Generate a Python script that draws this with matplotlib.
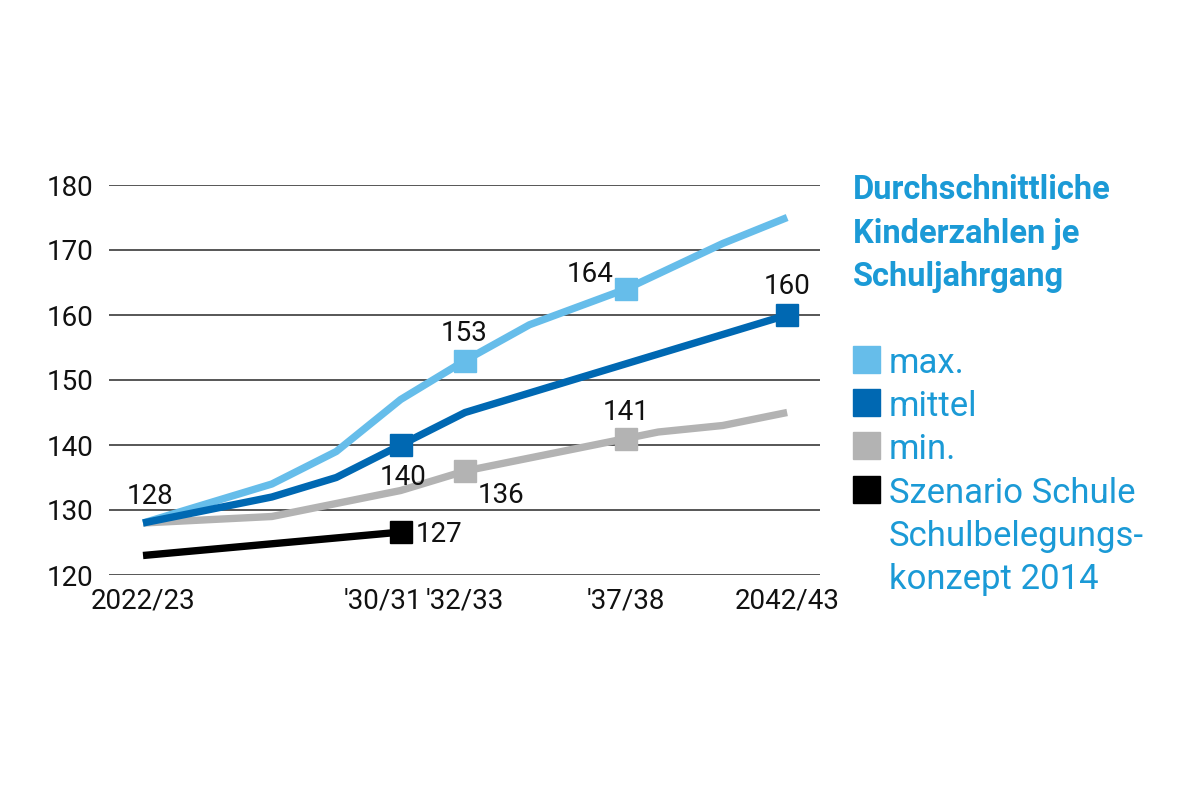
import matplotlib.pyplot as plt
from matplotlib.patches import Rectangle
from matplotlib.transforms import ScaledTranslation

plt.rcParams['font.family'] = ['Roboto', 'DejaVu Sans']

# x = Jahre ab 2022/23
tick_pos = [0, 8, 10, 15, 20]
tick_labels = ["2022/23", "'30/31", "'32/33", "'37/38", "2042/43"]

max_x = [0, 4, 6, 8, 10, 12, 15, 18, 20]
max_y = [128, 134, 139, 147, 153, 158.5, 164, 171, 175]
mittel_x = [0, 4, 6, 8, 10, 20]
mittel_y = [128, 132, 135, 140, 145, 160]
min_x = [0, 4, 8, 10, 15, 16, 18, 20]
min_y = [128, 129, 133, 136, 141, 142, 143, 145]
szen_x = [0, 8]
szen_y = [123, 126.6]

max_marks = [10, 15]
mittel_marks = [8, 20]
min_marks = [10, 15]
szen_marks = [8]

title_lines = ["Durchschnittliche", "Kinderzahlen je", "Schuljahrgang"]
legend_labels = ["max.", "mittel", "min.", "Szenario Schule\nSchulbelegungs-\nkonzept 2014"]

c_max = "#66bdea"
c_mittel = "#0068b2"
c_min = "#b3b3b3"
c_szen = "#000000"
c_title = "#1b9ad6"

fig = plt.figure(figsize=(12, 8), dpi=100)
ax = fig.add_axes([109 / 1200, 1 - 575 / 800, (820 - 109) / 1200, (575 - 185) / 800])
ax.set_xlim(-1.056, 21.02)
ax.set_ylim(120, 180)
ax.set_yticks(range(120, 181, 10))
ax.yaxis.grid(True, color="#3a3a3a", lw=1.2)
ax.set_axisbelow(True)
for s in ax.spines.values():
    s.set_visible(False)
ax.set_xticks(tick_pos)
ax.set_xticklabels(tick_labels)
ax.tick_params(length=0, labelsize=20, colors="#111111")
ax.tick_params(axis="y", pad=11)
ax.tick_params(axis="x", pad=9)
# '30/31 etwas nach links, sonst stoesst es an '32/33
lab = ax.get_xticklabels()[1]
lab.set_transform(lab.get_transform() + ScaledTranslation(-18 / 100, 0, fig.dpi_scale_trans))

series = [
    (szen_x, szen_y, szen_marks, c_szen),
    (min_x, min_y, min_marks, c_min),
    (max_x, max_y, max_marks, c_max),
    (mittel_x, mittel_y, mittel_marks, c_mittel),
]
for i, (x, y, marks, c) in enumerate(series):
    idx = [x.index(m) for m in marks]
    ax.plot(x, y, color=c, lw=5.3, solid_capstyle="butt", solid_joinstyle="round",
            marker="s", ms=16, markevery=idx, zorder=3 + i)

# Beschriftungen: (x-Liste, y-Liste, Jahr, dx, dy in Punkten)
notes = [
    (mittel_x, mittel_y, 0, 5, 14),
    (max_x, max_y, 10, -1, 14),
    (max_x, max_y, 15, -26, 5),
    (mittel_x, mittel_y, 20, 0, 15),
    (mittel_x, mittel_y, 8, 1.5, -29),
    (min_x, min_y, 10, 26, -23),
    (min_x, min_y, 15, 0, 13),
    (szen_x, szen_y, 8, 28, -7),
]
for x, y, yr, dx, dy in notes:
    v = y[x.index(yr)]
    ax.annotate(f"{v:.0f}", xy=(yr, v), xytext=(dx, dy), textcoords="offset points",
                ha="center", va="baseline", fontsize=20, color="#111111", zorder=10)

for i, t in enumerate(title_lines):
    fig.text(853 / 1200, 1 - (199 + 43.5 * i) / 800, t, fontsize=23.5, fontweight="bold",
             color=c_title, va="baseline", ha="left")

colors = [c_max, c_mittel, c_min, c_szen]
base = 373
for lbl, c in zip(legend_labels, colors):
    fig.patches.append(Rectangle((853 / 1200, 1 - base / 800), 27 / 1200, 27 / 800,
                                 transform=fig.transFigure, color=c))
    for line in lbl.split("\n"):
        fig.text(889 / 1200, 1 - base / 800, line, fontsize=25, color=c_title,
                 va="baseline", ha="left")
        base += 43.2

fig.savefig("out.png", dpi=100, facecolor="white")
